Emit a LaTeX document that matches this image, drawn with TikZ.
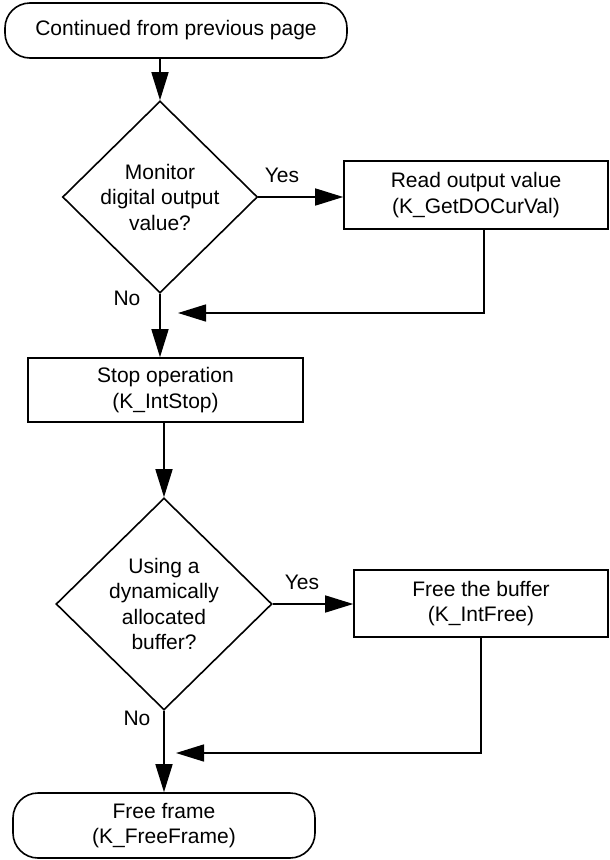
\documentclass[tikz,border=0pt]{standalone}
\usepackage{fontspec}
\setmainfont{Liberation Sans}
\usetikzlibrary{shapes.geometric,arrows.meta}
\begin{document}
\begin{tikzpicture}[x=1pt,y=-1pt,
  every node/.style={font=\fontsize{21}{25.5}\selectfont},
  term/.style={draw, line width=1.6pt, rounded corners=25pt, align=center, inner sep=0pt},
  proc/.style={draw, line width=1.6pt, align=center, inner sep=0pt},
  dec/.style={draw, diamond, line width=1.6pt, align=center, inner sep=0pt, aspect=1},
  lbl/.style={inner sep=0pt},
  arr/.style={line width=1.6pt, -{Triangle[length=28pt,width=17pt]}}]
\useasboundingbox (0,0) rectangle (610,860);
\node[term, minimum width=342pt, minimum height=55pt] (t1) at (176,30.5) {Continued from previous page};
\node[dec, minimum width=195pt, minimum height=192pt] (d1) at (160,197) {Monitor\\digital output\\value?};
\node[proc, minimum width=264pt, minimum height=68pt] (b1) at (476,195) {Read output value\\(K\_GetDOCurVal)};
\node[proc, minimum width=275pt, minimum height=64pt] (s) at (165.5,390) {Stop operation\\(K\_IntStop)};
\node[dec, minimum width=216pt, minimum height=212pt] (d2) at (164,604) {Using a\\dynamically\\allocated\\buffer?};
\node[proc, minimum width=254pt, minimum height=67pt] (b2) at (481,603.5) {Free the buffer\\(K\_IntFree)};
\node[term, minimum width=302pt, minimum height=65pt] (t2) at (164,825.5) {Free frame\\(K\_FreeFrame)};
\node[lbl] (y1) at (282,175) {Yes};
\node[lbl] (n1) at (127,298) {No};
\node[lbl] (y2) at (302,582) {Yes};
\node[lbl] (n2) at (137,718) {No};
\coordinate (r1) at (178,313);
\coordinate (r2) at (176,753);
\draw[arr] (d1.north |- t1.south) -- (d1.north);
\draw[arr] (d1.east) -- (d1.east -| b1.west);
\draw[arr] ([xshift=8pt]b1.south) |- (r1);
\draw[arr] (d1.south) -- (d1.south |- s.north);
\draw[arr] (d2.north |- s.south) -- (d2.north);
\draw[arr] (d2.east) -- (d2.east -| b2.west);
\draw[arr] (b2.south) |- (r2);
\draw[arr] (d2.south) -- (d2.south |- t2.north);
\end{tikzpicture}
\end{document}
